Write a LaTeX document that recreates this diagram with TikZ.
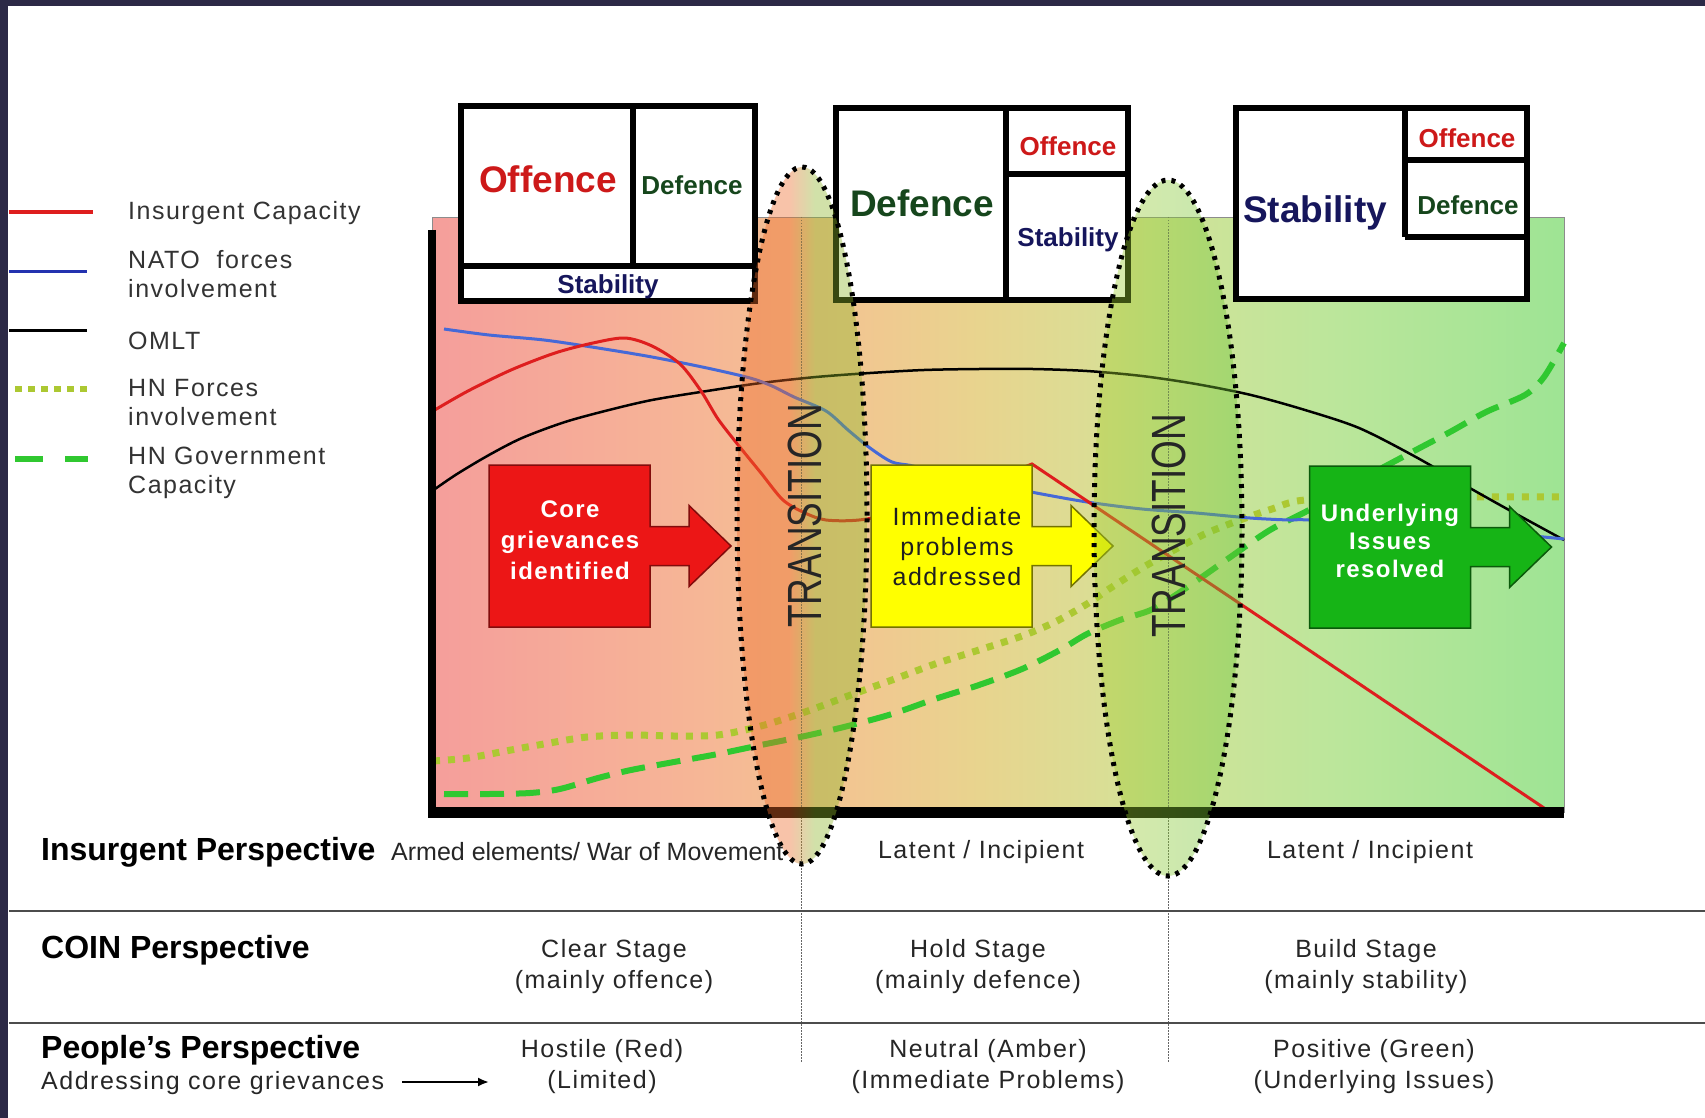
\documentclass[tikz,border=0pt]{standalone}
\usepackage{fontspec}
\setmainfont{Liberation Sans}
\newfontfamily\widefont[LetterSpace=6]{Liberation Sans}
\newfontfamily\tallfont[FakeStretch=0.77]{Liberation Sans}
\usetikzlibrary{shapes.geometric,arrows.meta}

\definecolor{framenavy}{RGB}{44,41,70}
\definecolor{gradA}{RGB}{245,158,155}
\definecolor{gradB}{RGB}{246,182,150}
\definecolor{gradC}{RGB}{242,198,145}
\definecolor{gradD}{RGB}{232,212,142}
\definecolor{gradE}{RGB}{212,226,152}
\definecolor{gradF}{RGB}{188,230,155}
\definecolor{gradG}{RGB}{158,228,148}
\definecolor{offred}{RGB}{205,25,25}
\definecolor{defgreen}{RGB}{22,70,28}
\definecolor{stabnavy}{RGB}{22,22,92}
\definecolor{colins}{RGB}{222,30,30}
\definecolor{colnato}{RGB}{70,105,215}
\definecolor{legendblue}{RGB}{35,50,175}
\definecolor{colforces}{RGB}{172,200,50}
\definecolor{colgov}{RGB}{48,200,48}
\definecolor{arrowred}{RGB}{236,22,22}
\definecolor{arrowyellow}{RGB}{255,255,0}
\definecolor{arrowgreen}{RGB}{22,180,22}
\definecolor{zoneorange}{RGB}{238,105,40}
\definecolor{zoneolive}{RGB}{140,182,40}
\definecolor{zonelime}{RGB}{165,205,45}
\definecolor{zonegreen}{RGB}{105,195,55}

\pgfdeclarehorizontalshading{chartshade}{100bp}{color(0bp)=(gradA); color(25bp)=(gradA); color(36.8bp)=(gradB); color(43.5bp)=(gradC); color(49.2bp)=(gradD); color(56.7bp)=(gradE); color(64.7bp)=(gradF); color(75bp)=(gradG); color(100bp)=(gradG)}
\pgfdeclarehorizontalshading{zoneshadeA}{100bp}{color(0bp)=(zoneorange); color(25bp)=(zoneorange); color(45bp)=(zoneorange); color(55bp)=(zoneolive); color(75bp)=(zoneolive); color(100bp)=(zoneolive)}
\pgfdeclarehorizontalshading{zoneshadeB}{100bp}{color(0bp)=(zonelime); color(25bp)=(zonelime); color(75bp)=(zonegreen); color(100bp)=(zonegreen)}

\begin{document}
\begin{tikzpicture}[x=1pt, y=-1pt,
boxframe/.style={draw=black, line width=6pt, fill=white},
boxline/.style={draw=black, line width=6pt},
bigword/.style={font=\bfseries\fontsize{37}{40}\selectfont},
smallword/.style={font=\bfseries\fontsize{26}{30}\selectfont},
legendtext/.style={anchor=west, inner sep=0pt, align=left, text=black!80, font=\widefont\fontsize{25}{29}\selectfont},
insline/.style={draw=colins, line width=3pt},
natoline/.style={draw=colnato, line width=3pt},
omltline/.style={draw=black, line width=2.5pt},
forcesline/.style={draw=colforces, line width=7pt, dash pattern=on 7pt off 8pt},
govline/.style={draw=colgov, line width=6pt, dash pattern=on 24pt off 12pt},
blockarrow/.pic={\filldraw[pic actions, line width=1.5pt] (-80.5pt,81pt) -- (80.5pt,81pt) -- (80.5pt,19.5pt) -- (119.5pt,19.5pt) -- (119.5pt,40.5pt) -- (161.5pt,0pt) -- (119.5pt,-40.5pt) -- (119.5pt,-19.5pt) -- (80.5pt,-19.5pt) -- (80.5pt,-81pt) -- (-80.5pt,-81pt) -- cycle;},
arrowlabel/.style={align=center, inner sep=0pt},
zone/.style={ellipse, shade, draw=black, line width=5pt, dash pattern=on 4pt off 6pt, fill opacity=0.4, inner sep=0pt, minimum width=#1},
transtext/.style={rotate=90, text=black!85, font=\tallfont\fontsize{48}{48}\selectfont},
zoneaxis/.style={draw=black!60, line width=1pt, dash pattern=on 1.5pt off 1.5pt},
tablerule/.style={draw=black!70, line width=2pt},
headtext/.style={anchor=west, inner sep=0pt, font=\bfseries\fontsize{32}{36}\selectfont},
celltext/.style={align=center, inner sep=0pt, text=black!85, font=\widefont\fontsize{25}{31}\selectfont},
pointer/.style={draw=black, line width=2pt, -{Latex[length=11pt,width=9pt]}}
]
    \useasboundingbox (0,0) rectangle (1705,1118);
    \fill[white] (0,0) rectangle (1705,1118);
    \fill[framenavy] (0,0) rectangle (1705,6);
    \fill[framenavy] (0,0) rectangle (8,1118);

    \shadedraw[shading=chartshade, draw=black!45, line width=1pt] (432,218) rectangle (1564,812);
    \draw[zoneaxis] (801,217) -- (801,1062);
    \draw[zoneaxis] (1168,217) -- (1168,1062);

    \draw[govline] plot[smooth, tension=0.5] coordinates {(444,794) (489,794) (530,793) (560,789) (598,778) (631,770) (674,762) (718,754) (761,745) (805,736) (848,726) (892,714) (935,699) (979,685) (1022,669) (1060,650) (1087,634) (1120,620) (1153,609) (1189,586) (1229,558) (1270,530) (1309,510) (1360,480) (1414,451) (1450,432) (1486,412) (1525,395) (1544,377) (1564,343)};
    \draw[forcesline] plot[smooth, tension=0.5] coordinates {(433,761) (468,758) (511,750) (544,744) (587,737) (631,735) (674,736) (718,735) (761,726) (805,712) (848,696) (892,680) (935,664) (979,650) (1022,636) (1055,622) (1087,604) (1109,589) (1142,568) (1174,550) (1207,533) (1240,520) (1272,509) (1305,500) (1400,497) (1564,497)};
    \draw[omltline] plot[smooth, tension=0.5] coordinates {(435,489) (457,474) (489,455) (522,438) (565,422) (609,410) (652,400) (707,391) (761,383) (816,377) (870,373) (924,370) (979,369) (1033,369) (1087,371) (1142,376) (1196,384) (1251,395) (1305,410) (1359,428) (1414,456) (1468,487) (1509,510) (1564,540)};
    \draw[natoline] plot[smooth, tension=0.5] coordinates {(444,329) (489,335) (544,340) (598,348) (652,357) (707,368) (750,378) (772,386) (794,397) (826,411) (848,430) (870,448) (892,462) (913,466) (960,478) (1031,492) (1087,502) (1142,509) (1196,513) (1250,518) (1289,520) (1309,520) (1400,526) (1500,533) (1564,539)};
    \draw[insline] plot[smooth, tension=0.5] coordinates {(433,411) (468,391) (511,370) (555,353) (593,343) (625,338) (652,346) (680,364) (701,391) (718,419) (739,446) (761,473) (783,500) (805,513) (826,520) (859,520) (900,512) (960,492) (1032,464)} -- (1547,810);

    \draw[line width=8pt] (432,230) -- (432,818);
    \draw[line width=11pt] (428,812) -- (1564,812);

    \pic[fill=arrowred, draw=arrowred!55!black] (corearrow) at (569.5,546) {blockarrow};
    \pic[fill=arrowyellow, draw=arrowyellow!45!black] (immarrow) at (951.5,546) {blockarrow};
    \pic[fill=arrowgreen, draw=arrowgreen!50!black] (undarrow) at (1390,547) {blockarrow};
    \node[arrowlabel, text=white, font=\widefont\bfseries\fontsize{24}{31}\selectfont] (core) at (570,540) {Core\\grievances\\identified};
    \node[arrowlabel, text=black!88, font=\widefont\fontsize{25}{30}\selectfont] (imm) at (957,547) {Immediate\\problems\\addressed};
    \node[arrowlabel, text=white, font=\widefont\bfseries\fontsize{24}{28}\selectfont] (und) at (1390,541) {Underlying\\Issues\\resolved};

    \draw[boxframe] (461,106) rectangle (755,301);
    \draw[boxline] (633,106) -- (633,266);
    \draw[boxline] (461,266) -- (755,266);
    \node[bigword, text=offred] (off1) at (548,179) {Offence};
    \node[smallword, text=defgreen] (def1) at (692,185) {Defence};
    \node[smallword, text=stabnavy] (stab1) at (608,287) {Stability};

    \draw[boxframe] (836,108) rectangle (1128,300);
    \draw[boxline] (1006,108) -- (1006,300);
    \draw[boxline] (1006,174) -- (1128,174);
    \node[bigword, text=defgreen] (def2) at (922,203) {Defence};
    \node[smallword, text=offred] (off2) at (1068,146) {Offence};
    \node[smallword, text=stabnavy] (stab2) at (1068,240) {Stability};

    \draw[boxframe] (1236,108) rectangle (1527,299);
    \draw[boxline] (1405,108) -- (1405,237);
    \draw[boxline] (1405,160) -- (1527,160);
    \draw[boxline] (1405,237) -- (1527,237);
    \node[bigword, text=stabnavy] (stab3) at (1315,213) {Stability};
    \node[smallword, text=offred] (off3) at (1467,138) {Offence};
    \node[smallword, text=defgreen] (def3) at (1468,205) {Defence};

    \node[zone=130pt, minimum height=697pt, shading=zoneshadeA] (zone1) at (802,515.5) {};
    \node[zone=148pt, minimum height=696pt, shading=zoneshadeB] (zone2) at (1168,528) {};
    \node[transtext] (trans1) at (805,516) {TRANSITION};
    \node[transtext] (trans2) at (1169,526) {TRANSITION};

    \draw[insline, line width=4pt] (9,212) -- (93,212);
    \draw[natoline, draw=legendblue] (9,271) -- (87,271);
    \draw[omltline, line width=3pt] (9,330) -- (87,330);
    \draw[forcesline, line width=6pt, dash pattern=on 7pt off 6pt] (15,389) -- (93,389);
    \draw[govline, line width=6pt, dash pattern=on 28pt off 22pt] (15,459) -- (88,459);
    \node[legendtext] (lgins) at (128,213) {Insurgent Capacity};
    \node[legendtext] (lgnato) at (128,274) {NATO~ forces\\involvement};
    \node[legendtext] (lgomlt) at (128,341) {OMLT};
    \node[legendtext] (lgforces) at (128,403) {HN Forces\\involvement};
    \node[legendtext] (lggov) at (128,473) {HN Government\\Capacity};

    \draw[tablerule] (9,911) -- (1705,911);
    \draw[tablerule] (9,1023) -- (1705,1023);

    \node[headtext] (insp) at (41,852) {Insurgent Perspective};
    \node[anchor=west, inner sep=0pt, text=black!85, font=\fontsize{25}{30}\selectfont] (armed) at (391,852) {Armed elements/ War of Movement};
    \node[celltext] (latent1) at (981,852) {Latent / Incipient};
    \node[celltext] (latent2) at (1370,852) {Latent / Incipient};

    \node[headtext] (coin) at (41,950) {COIN Perspective};
    \node[celltext] (clear) at (614,967) {Clear Stage\\(mainly offence)};
    \node[celltext] (hold) at (978,967) {Hold Stage\\(mainly defence)};
    \node[celltext] (build) at (1366,967) {Build Stage\\(mainly stability)};

    \node[headtext] (people) at (41,1050) {People’s Perspective};
    \node[celltext, anchor=west] (addr) at (41,1083) {Addressing core grievances};
    \coordinate (ptrstart) at (402,1082);
    \coordinate (ptrend) at (489,1082);
    \draw[pointer] (ptrstart) -- (ptrend);
    \node[celltext] (hostile) at (602,1067) {Hostile (Red)\\(Limited)};
    \node[celltext] (neutral) at (988,1067) {Neutral (Amber)\\(Immediate Problems)};
    \node[celltext] (positive) at (1374,1067) {Positive (Green)\\(Underlying Issues)};
\end{tikzpicture}
\end{document}
